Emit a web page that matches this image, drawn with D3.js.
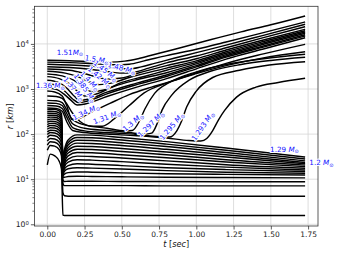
<!DOCTYPE html>
<html><head><meta charset="utf-8">
<script src="https://cdn.jsdelivr.net/npm/d3@7"></script>
<style>body{margin:0;background:#fff}</style>
</head><body>
<svg id="c" width="340" height="255"></svg>
<script>
// ---------------- data ----------------
const xTickVals = [0, 0.25, 0.5, 0.75, 1.0, 1.25, 1.5, 1.75];
const yTickVals = [1, 10, 100, 1000, 10000];

// inner shells: common time grid (s) and radii (km)
const innerTimes = [0, 0.02, 0.05, 0.08, 0.095, 0.105, 0.115, 0.14, 0.2, 0.3, 0.5, 0.8, 1.2, 1.73];
const innerRadii = [
  [20.7, 36, 33, 25, 17, 1.6, 1.57, 1.57, 1.57, 1.57, 1.57, 1.57, 1.57, 1.57],
  [44, 56, 54, 45, 33, 5, 4.3, 4.2, 4.2, 4.2, 4.2, 4.2, 4.2, 4.2],
  [57, 68, 66, 56, 42, 8, 7.2, 7.2, 7.2, 7.2, 7.2, 7.1, 7.1, 7.1],
  [70, 80, 78, 67, 52, 9.5, 8.9, 9, 9, 9, 8.9, 8.9, 8.8, 8.8],
  [84, 94, 92, 80, 63, 11, 11, 11.5, 11.6, 11.5, 11.3, 11, 10.9, 10.7],
  [98, 108, 106, 93, 75, 12, 13, 14, 14.5, 14.3, 13.8, 13.2, 12.8, 12.4],
  [112, 122, 120, 106, 86, 13, 15, 17, 18, 17.6, 16.8, 15.5, 14.3, 13.5],
  [128, 138, 136, 121, 98, 14, 17, 20, 22, 21.5, 20, 18, 16.3, 14.8],
  [145, 155, 153, 137, 112, 15, 19, 24, 27, 26.5, 24.5, 21.5, 18.5, 16],
  [163, 173, 171, 154, 127, 16, 21, 28, 32.5, 32, 29.5, 25.5, 21, 17.5],
  [183, 193, 191, 173, 143, 17, 23, 33, 39, 38.5, 35, 30, 24, 19],
  [205, 215, 213, 194, 161, 18, 26, 38, 46, 45.5, 41, 35, 27, 20.5],
  [228, 238, 236, 216, 180, 20, 29, 44, 54, 53, 48, 40, 31, 22],
  [253, 263, 261, 240, 202, 22, 32, 50, 63, 62, 56, 46, 35, 23.5],
  [280, 290, 288, 266, 226, 24, 36, 57, 73, 72, 64, 53, 39, 25.5],
  [310, 320, 318, 295, 252, 27, 40, 65, 84, 83, 74, 60, 44, 28],
  [345, 355, 353, 328, 282, 30, 45, 74, 96, 95, 84, 68, 49, 31]
];

// outer (shocked) shells: [t (s), r (km)] pairs
const shell1293 = [[0,380],[0.06,370],[0.1,320],[0.13,190],[0.17,120],[0.25,108],[0.4,100],[0.6,92],[0.8,82],[0.95,72],[1.03,70],[1.07,80],[1.11,120],[1.15,210],[1.19,335],[1.27,660],[1.4,1100],[1.55,1400],[1.73,1730]];
const shell1295 = [[0,430],[0.06,420],[0.1,370],[0.13,240],[0.17,140],[0.25,118],[0.4,108],[0.6,98],[0.75,88],[0.82,86],[0.87,120],[0.9,190],[0.935,400],[1.0,900],[1.11,1800],[1.29,2600],[1.49,3400],[1.73,4030]];
const shell1297 = [[0,490],[0.06,480],[0.1,430],[0.13,290],[0.17,170],[0.25,135],[0.4,120],[0.55,108],[0.65,100],[0.7,105],[0.74,180],[0.77,340],[0.835,730],[0.955,1590],[1.1,2500],[1.3,3500],[1.5,4300],[1.73,5040]];
const shell1300 = [[0,560],[0.06,550],[0.1,500],[0.13,350],[0.17,210],[0.25,160],[0.4,135],[0.52,118],[0.57,120],[0.62,200],[0.655,360],[0.72,800],[0.82,1400],[1.0,2400],[1.2,3500],[1.45,4700],[1.73,5880]];
const shell1310 = [[0,700],[0.06,680],[0.1,620],[0.13,470],[0.17,290],[0.22,190],[0.3,150],[0.37,150],[0.45,220],[0.55,430],[0.65,820],[0.8,1350],[1.0,2200],[1.2,3300],[1.45,4900],[1.73,6700]];
const shell1340 = [[0,900],[0.05,860],[0.1,700],[0.13,430],[0.165,210],[0.2,215],[0.29,300],[0.42,480],[0.55,750],[0.7,1100],[0.85,1550],[1.0,2300],[1.2,3700],[1.45,6000],[1.73,9800]];
const shell1360 = [[0,1050],[0.06,980],[0.11,780],[0.16,560],[0.2,440],[0.26,470],[0.4,680],[0.6,1100],[0.8,1700],[1.0,2800],[1.2,4600],[1.45,7700],[1.73,13700]];
const shellU2   = [[0,1320],[0.06,1200],[0.12,880],[0.17,600],[0.21,500],[0.27,540],[0.4,780],[0.6,1250],[0.8,1900],[1.0,3100],[1.2,5100],[1.45,8500],[1.73,15000]];
const shellU1   = [[0,1570],[0.07,1420],[0.13,1050],[0.18,700],[0.22,560],[0.28,600],[0.4,850],[0.6,1350],[0.8,2050],[1.0,3300],[1.2,5400],[1.45,9000],[1.73,16000]];
const shell1370 = [[0,1880],[0.08,1700],[0.15,1300],[0.2,900],[0.25,700],[0.32,760],[0.45,1150],[0.6,1600],[0.8,2300],[1.0,3600],[1.2,5800],[1.45,9800],[1.73,17200]];
const shell1385 = [[0,2160],[0.1,1950],[0.18,1550],[0.25,1050],[0.3,870],[0.38,950],[0.5,1400],[0.65,1900],[0.8,2600],[1.0,3900],[1.2,6200],[1.45,10500],[1.73,18400]];
const shell1400 = [[0,2480],[0.12,2250],[0.2,1900],[0.28,1450],[0.35,1250],[0.45,1400],[0.55,1800],[0.8,2900],[1.0,4200],[1.2,6700],[1.45,11300],[1.73,19600]];
const shell1420 = [[0,2790],[0.15,2600],[0.25,2200],[0.33,1850],[0.4,1650],[0.5,1750],[0.6,2200],[0.8,3300],[1.0,4700],[1.2,7300],[1.45,12200],[1.73,21100]];
const shell1450 = [[0,3130],[0.15,3000],[0.3,2700],[0.4,2450],[0.5,2250],[0.58,2350],[0.68,2900],[0.8,3800],[1.0,5400],[1.2,8200],[1.45,13800],[1.73,24100]];
const shell1480 = [[0,3550],[0.15,3420],[0.3,3200],[0.45,2900],[0.55,2800],[0.63,3100],[0.72,3700],[0.85,4800],[1.0,6400],[1.2,9400],[1.45,15500],[1.73,27200]];
const shell1500 = [[0,3950],[0.15,3850],[0.3,3650],[0.45,3450],[0.55,3550],[0.65,4200],[0.8,5500],[1.0,7600],[1.2,11000],[1.45,17800],[1.73,30600]];
const shell1510 = [[0,4330],[0.15,4250],[0.3,4050],[0.42,3950],[0.52,4150],[0.62,4800],[0.75,6200],[0.9,8300],[1.1,12500],[1.3,18500],[1.5,26500],[1.73,41600]];

const outerShells = [shell1293, shell1295, shell1297, shell1300, shell1310, shell1340, shell1360,
  shellU2, shellU1, shell1370, shell1385, shell1400, shell1420, shell1450, shell1480, shell1500, shell1510];

// mass labels (solar masses) and their anchor points in data units
const labelMass  = ["1.51", "1.5", "1.48", "1.45", "1.42", "1.4", "1.385", "1.37", "1.36", "1.34", "1.31", "1.3", "1.297", "1.295", "1.293", "1.29", "1.2"];
const labelT     = [0.152, 0.333, 0.500, 0.393, 0.353, 0.286, 0.2525, 0.179, 0.021, 0.259, 0.40, 0.574, 0.695, 0.835, 1.043, 1.592, 1.84];
const labelR     = [6610, 4510, 2920, 2510, 1840, 1500, 1050, 1000, 1170, 309, 239, 185, 167, 151, 151, 46.7, 23.2];
const labelAngle = [0, 8, 15, 38, 40, 45, 55, 50, 0, -25, -20, -40, -45, -50, -55, 0, 0];

// ---------------- drawing ----------------
const m = {l: 34.4, r: 318, t: 6.3, b: 226};
const x = d3.scaleLinear().domain([-0.0865, 1.8165]).range([m.l, m.r]);
const y = d3.scaleLog().domain([Math.pow(10, -0.038), Math.pow(10, 4.834)]).range([m.b, m.t]);
const svg = d3.select("#c");
const FONT = "DejaVu Sans";

svg.append("rect").attr("width", 340).attr("height", 255).attr("fill", "#fff");

// grid
const grid = svg.append("g").attr("stroke", "#d6d6d6").attr("stroke-width", 0.8);
grid.selectAll(".gx").data(xTickVals).join("line")
  .attr("x1", d => x(d)).attr("x2", d => x(d)).attr("y1", m.t).attr("y2", m.b);
grid.selectAll(".gy").data(yTickVals).join("line")
  .attr("y1", d => y(d)).attr("y2", d => y(d)).attr("x1", m.l).attr("x2", m.r);

svg.append("clipPath").attr("id", "clip").append("rect")
  .attr("x", m.l).attr("y", m.t).attr("width", m.r - m.l).attr("height", m.b - m.t);

const line = d3.line().x(d => x(d[0])).y(d => y(d[1])).curve(d3.curveMonotoneX);
const lines = svg.append("g").attr("clip-path", "url(#clip)")
  .attr("fill", "none").attr("stroke", "#000").attr("stroke-width", 1.45).attr("stroke-linejoin", "round");

innerRadii.forEach(rs => {
  lines.append("path").attr("d", line(innerTimes.map((t, i) => [t, rs[i]])));
});
outerShells.forEach(pts => {
  lines.append("path").attr("d", line(pts));
});

// frame
svg.append("rect").attr("x", m.l).attr("y", m.t).attr("width", m.r - m.l).attr("height", m.b - m.t)
  .attr("fill", "none").attr("stroke", "#333").attr("stroke-width", 0.8);

// x axis
const gx = svg.append("g").attr("transform", `translate(0,${m.b})`)
  .call(d3.axisBottom(x).tickValues(xTickVals).tickFormat(d3.format(".2f")).tickSize(3.5).tickPadding(2));
gx.select(".domain").remove();
gx.attr("font-family", FONT).attr("font-size", 7.5);
gx.selectAll("line").attr("stroke", "#333").attr("stroke-width", 0.8);
gx.selectAll("text").attr("fill", "#222");

// y axis (major)
const gy = svg.append("g").attr("transform", `translate(${m.l},0)`)
  .call(d3.axisLeft(y).tickValues(yTickVals).tickFormat(() => "").tickSize(3.5).tickPadding(2));
gy.select(".domain").remove();
gy.attr("font-family", FONT).attr("font-size", 7.7);
gy.selectAll("line").attr("stroke", "#333").attr("stroke-width", 0.8);
gy.selectAll(".tick text").attr("fill", "#222").attr("dy", "0.35em").each(function(d) {
  const e = Math.round(Math.log10(d));
  const t = d3.select(this);
  t.text("10");
  t.append("tspan").attr("font-size", 5.4).attr("dy", "-0.55em").text(e);
});
// y axis (minor)
const minorVals = [];
[1, 10, 100, 1000, 10000].forEach(b => { for (let k = 2; k <= 9; k++) if (b * k < y.domain()[1]) minorVals.push(b * k); });
const gym = svg.append("g").attr("transform", `translate(${m.l},0)`)
  .call(d3.axisLeft(y).tickValues(minorVals).tickFormat(() => "").tickSize(2));
gym.select(".domain").remove();
gym.selectAll("line").attr("stroke", "#333").attr("stroke-width", 0.6);

// axis titles
const xt = svg.append("text").attr("x", (m.l + m.r) / 2).attr("y", 246.5).attr("text-anchor", "middle")
  .attr("font-family", FONT).attr("font-size", 8.2).attr("fill", "#111");
xt.append("tspan").attr("font-style", "italic").text("t");
xt.append("tspan").text(" [");
xt.append("tspan").attr("font-style", "italic").text("sec");
xt.append("tspan").text("]");

const yt = svg.append("text").attr("transform", `translate(12.5,${(m.t + m.b) / 2}) rotate(-90)`)
  .attr("text-anchor", "middle").attr("font-family", FONT).attr("font-size", 8.5).attr("fill", "#111");
yt.append("tspan").attr("font-style", "italic").text("r");
yt.append("tspan").text(" [");
yt.append("tspan").attr("font-style", "italic").text("km");
yt.append("tspan").text("]");

// mass labels
const lg = svg.append("g").attr("font-family", FONT).attr("font-size", 7.2).attr("fill", "#1010ff");
labelMass.forEach((lab, i) => {
  const px = x(labelT[i]), py = y(labelR[i]);
  const t = lg.append("text")
    .attr("transform", `translate(${px},${py}) rotate(${labelAngle[i]})`)
    .attr("text-anchor", "middle").attr("dy", "0.35em")
    .attr("stroke", "#fff").attr("stroke-width", 2.2).attr("stroke-linejoin", "round")
    .style("paint-order", "stroke");
  t.append("tspan").text(lab + (lab === "1.51" ? "" : "\u00a0"));
  t.append("tspan").attr("font-style", "italic").text("M");
  t.append("tspan").attr("font-size", 5.2).attr("dy", "0.3em").text("\u2299");
});
</script>
</body></html>
